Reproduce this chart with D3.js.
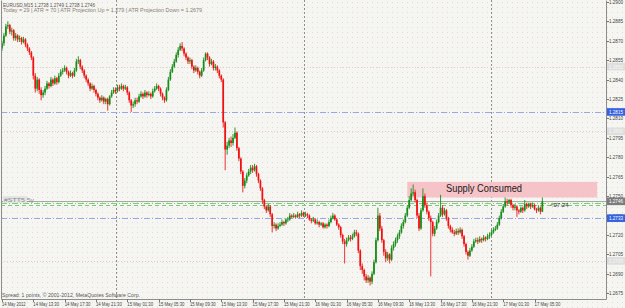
<!DOCTYPE html>
<html>
<head>
<meta charset="utf-8">
<script src="https://cdn.jsdelivr.net/npm/d3@7"></script>
<style>
  body { margin: 0; background: #f5f5f2; }
  svg { display: block; }
</style>
</head>
<body>
<div id="container"></div>
<script>
// EURUSD M15, one bar every 15 minutes from 14 May 2012 09:30 to 17 May 2012 06:30
var opens = [
1.2864,1.2868,1.2874,1.2881,1.2882,1.2877,1.2878,1.2872,1.2874,1.2871,
1.2872,1.2869,1.2871,1.2867,1.2864,1.2861,1.2857,1.2843,1.2833,1.2840,
1.2832,1.2828,1.2830,1.2833,1.2837,1.2835,1.2840,1.2837,1.2841,1.2838,
1.2843,1.2846,1.2847,1.2849,1.2846,1.2843,1.2845,1.2843,1.2847,1.2854,
1.2855,1.2850,1.2847,1.2843,1.2840,1.2837,1.2833,1.2835,1.2832,1.2829,
1.2826,1.2824,1.2826,1.2823,1.2825,1.2821,1.2827,1.2830,1.2832,1.2831,
1.2834,1.2833,1.2835,1.2833,1.2834,1.2830,1.2824,1.2820,1.2821,1.2824,
1.2823,1.2827,1.2829,1.2827,1.2830,1.2828,1.2829,1.2827,1.2831,1.2833,
1.2835,1.2833,1.2829,1.2826,1.2824,1.2832,1.2840,1.2846,1.2850,1.2854,
1.2859,1.2863,1.2866,1.2864,1.2860,1.2857,1.2854,1.2855,1.2850,1.2847,
1.2849,1.2846,1.2843,1.2847,1.2855,1.2860,1.2857,1.2852,1.2854,1.2849,
1.2850,1.2847,1.2843,1.2840,1.2807,1.2786,1.2789,1.2793,1.2791,1.2795,
1.2799,1.2787,1.2779,1.2769,1.2758,1.2762,1.2766,1.2769,1.2772,1.2770,
1.2773,1.2767,1.2762,1.2756,1.2747,1.2742,1.2739,1.2742,1.2736,1.2727,
1.2728,1.2725,1.2727,1.2728,1.2730,1.2729,1.2732,1.2732,1.2735,1.2734,
1.2735,1.2734,1.2736,1.2735,1.2737,1.2735,1.2736,1.2735,1.2732,1.2731,
1.2732,1.2729,1.2730,1.2728,1.2729,1.2726,1.2728,1.2727,1.2730,1.2733,
1.2735,1.2732,1.2728,1.2726,1.2720,1.2715,1.2713,1.2716,1.2718,1.2717,
1.2719,1.2722,1.2721,1.2708,1.2696,1.2693,1.2688,1.2685,1.2687,1.2684,
1.2690,1.2699,1.2716,1.2735,1.2725,1.2716,1.2707,1.2702,1.2705,1.2701,
1.2710,1.2713,1.2716,1.2719,1.2722,1.2727,1.2730,1.2735,1.2741,1.2747,
1.2752,1.2753,1.2747,1.2735,1.2725,1.2739,1.2750,1.2743,1.2738,1.2733,
1.2730,1.2721,1.2725,1.2730,1.2735,1.2741,1.2736,1.2739,1.2733,1.2727,
1.2724,1.2722,1.2721,1.2723,1.2722,1.2724,1.2719,1.2713,1.2707,1.2704,
1.2708,1.2711,1.2715,1.2716,1.2715,1.2717,1.2716,1.2718,1.2717,1.2719,
1.2720,1.2722,1.2724,1.2725,1.2728,1.2733,1.2738,1.2742,1.2746,1.2745,
1.2747,1.2743,1.2741,1.2742,1.2739,1.2738,1.2741,1.2739,1.2744,1.2742,
1.2744,1.2742,1.2743,1.2740,1.2739,1.2741,1.2738
];
var highs = [
1.2870,1.2876,1.2883,1.2885,1.2883,1.2880,1.2879,1.2876,1.2875,1.2874,
1.2873,1.2873,1.2872,1.2868,1.2865,1.2862,1.2858,1.2845,1.2842,1.2841,
1.2834,1.2832,1.2835,1.2839,1.2838,1.2842,1.2841,1.2843,1.2842,1.2845,
1.2848,1.2849,1.2851,1.2850,1.2847,1.2847,1.2846,1.2849,1.2856,1.2858,
1.2856,1.2851,1.2848,1.2844,1.2841,1.2838,1.2837,1.2836,1.2833,1.2830,
1.2827,1.2828,1.2827,1.2826,1.2826,1.2828,1.2832,1.2834,1.2834,1.2836,
1.2836,1.2837,1.2836,1.2836,1.2835,1.2831,1.2825,1.2823,1.2826,1.2826,
1.2829,1.2831,1.2830,1.2832,1.2831,1.2831,1.2830,1.2833,1.2835,1.2837,
1.2836,1.2834,1.2830,1.2827,1.2834,1.2842,1.2848,1.2852,1.2856,1.2861,
1.2865,1.2868,1.2869,1.2865,1.2861,1.2858,1.2857,1.2856,1.2851,1.2851,
1.2850,1.2847,1.2849,1.2857,1.2861,1.2861,1.2858,1.2856,1.2855,1.2852,
1.2851,1.2848,1.2844,1.2841,1.2808,1.2792,1.2795,1.2796,1.2798,1.2803,
1.2800,1.2788,1.2780,1.2770,1.2764,1.2768,1.2771,1.2774,1.2774,1.2775,
1.2774,1.2768,1.2763,1.2757,1.2748,1.2743,1.2744,1.2743,1.2737,1.2730,
1.2729,1.2729,1.2730,1.2732,1.2731,1.2733,1.2734,1.2737,1.2736,1.2737,
1.2736,1.2738,1.2737,1.2739,1.2738,1.2738,1.2737,1.2736,1.2733,1.2734,
1.2733,1.2732,1.2731,1.2730,1.2730,1.2729,1.2729,1.2732,1.2735,1.2737,
1.2736,1.2733,1.2729,1.2727,1.2721,1.2717,1.2718,1.2720,1.2720,1.2721,
1.2724,1.2724,1.2722,1.2709,1.2698,1.2694,1.2690,1.2689,1.2688,1.2692,
1.2701,1.2718,1.2741,1.2737,1.2727,1.2717,1.2709,1.2707,1.2706,1.2712,
1.2715,1.2718,1.2721,1.2724,1.2729,1.2732,1.2737,1.2743,1.2750,1.2756,
1.2759,1.2755,1.2748,1.2737,1.2741,1.2756,1.2752,1.2745,1.2739,1.2735,
1.2731,1.2727,1.2732,1.2737,1.2751,1.2743,1.2741,1.2740,1.2734,1.2728,
1.2726,1.2724,1.2725,1.2725,1.2726,1.2725,1.2720,1.2714,1.2708,1.2710,
1.2713,1.2717,1.2718,1.2718,1.2719,1.2718,1.2720,1.2719,1.2721,1.2722,
1.2724,1.2726,1.2727,1.2730,1.2735,1.2740,1.2744,1.2749,1.2748,1.2748,
1.2748,1.2744,1.2744,1.2743,1.2740,1.2742,1.2742,1.2747,1.2745,1.2745,
1.2745,1.2745,1.2744,1.2741,1.2743,1.2742,1.2749
];
var lows = [
1.2862,1.2866,1.2873,1.2879,1.2875,1.2874,1.2870,1.2870,1.2869,1.2869,
1.2867,1.2868,1.2865,1.2862,1.2859,1.2855,1.2840,1.2830,1.2831,1.2829,
1.2824,1.2826,1.2828,1.2832,1.2833,1.2834,1.2835,1.2836,1.2836,1.2837,
1.2842,1.2844,1.2846,1.2844,1.2841,1.2842,1.2841,1.2842,1.2846,1.2852,
1.2848,1.2845,1.2841,1.2838,1.2835,1.2831,1.2832,1.2830,1.2827,1.2824,
1.2822,1.2823,1.2821,1.2821,1.2816,1.2820,1.2826,1.2829,1.2829,1.2830,
1.2831,1.2832,1.2831,1.2832,1.2828,1.2822,1.2815,1.2818,1.2819,1.2821,
1.2822,1.2826,1.2825,1.2826,1.2826,1.2827,1.2825,1.2826,1.2830,1.2832,
1.2831,1.2827,1.2824,1.2822,1.2823,1.2831,1.2839,1.2845,1.2849,1.2853,
1.2857,1.2862,1.2862,1.2858,1.2855,1.2852,1.2852,1.2848,1.2845,1.2846,
1.2844,1.2841,1.2842,1.2846,1.2854,1.2855,1.2850,1.2851,1.2847,1.2847,
1.2845,1.2841,1.2838,1.2803,1.2770,1.2782,1.2787,1.2788,1.2789,1.2794,
1.2785,1.2777,1.2767,1.2753,1.2756,1.2760,1.2765,1.2767,1.2768,1.2769,
1.2765,1.2760,1.2754,1.2744,1.2740,1.2737,1.2738,1.2734,1.2722,1.2725,
1.2723,1.2724,1.2726,1.2727,1.2727,1.2728,1.2730,1.2731,1.2733,1.2733,
1.2733,1.2733,1.2733,1.2734,1.2734,1.2734,1.2733,1.2731,1.2729,1.2730,
1.2728,1.2728,1.2726,1.2727,1.2725,1.2725,1.2725,1.2726,1.2729,1.2732,
1.2731,1.2727,1.2724,1.2718,1.2713,1.2698,1.2711,1.2715,1.2715,1.2716,
1.2718,1.2719,1.2706,1.2693,1.2690,1.2685,1.2683,1.2683,1.2681,1.2682,
1.2689,1.2698,1.2715,1.2723,1.2714,1.2704,1.2699,1.2700,1.2698,1.2700,
1.2708,1.2711,1.2714,1.2717,1.2721,1.2725,1.2729,1.2734,1.2740,1.2746,
1.2750,1.2745,1.2733,1.2723,1.2724,1.2738,1.2741,1.2736,1.2731,1.2688,
1.2719,1.2719,1.2724,1.2729,1.2734,1.2734,1.2735,1.2731,1.2725,1.2722,
1.2721,1.2719,1.2720,1.2720,1.2721,1.2717,1.2711,1.2705,1.2701,1.2703,
1.2707,1.2710,1.2714,1.2713,1.2714,1.2714,1.2715,1.2715,1.2716,1.2717,
1.2719,1.2721,1.2723,1.2724,1.2727,1.2732,1.2737,1.2741,1.2743,1.2744,
1.2741,1.2739,1.2739,1.2734,1.2736,1.2737,1.2737,1.2738,1.2740,1.2741,
1.2740,1.2741,1.2739,1.2737,1.2738,1.2736,1.2738
];
var closes = [
1.2868,1.2874,1.2881,1.2882,1.2877,1.2878,1.2872,1.2874,1.2871,1.2872,
1.2869,1.2871,1.2867,1.2864,1.2861,1.2857,1.2843,1.2833,1.2840,1.2832,
1.2828,1.2830,1.2833,1.2837,1.2835,1.2840,1.2837,1.2841,1.2838,1.2843,
1.2846,1.2847,1.2849,1.2846,1.2843,1.2845,1.2843,1.2847,1.2854,1.2855,
1.2850,1.2847,1.2843,1.2840,1.2837,1.2833,1.2835,1.2832,1.2829,1.2826,
1.2824,1.2826,1.2823,1.2825,1.2821,1.2827,1.2830,1.2832,1.2831,1.2834,
1.2833,1.2835,1.2833,1.2834,1.2830,1.2824,1.2820,1.2821,1.2824,1.2823,
1.2827,1.2829,1.2827,1.2830,1.2828,1.2829,1.2827,1.2831,1.2833,1.2835,
1.2833,1.2829,1.2826,1.2824,1.2832,1.2840,1.2846,1.2850,1.2854,1.2859,
1.2863,1.2866,1.2864,1.2860,1.2857,1.2854,1.2855,1.2850,1.2847,1.2849,
1.2846,1.2843,1.2847,1.2855,1.2860,1.2857,1.2852,1.2854,1.2849,1.2850,
1.2847,1.2843,1.2840,1.2807,1.2786,1.2789,1.2793,1.2791,1.2795,1.2799,
1.2787,1.2779,1.2769,1.2758,1.2762,1.2766,1.2769,1.2772,1.2770,1.2773,
1.2767,1.2762,1.2756,1.2747,1.2742,1.2739,1.2742,1.2736,1.2727,1.2728,
1.2725,1.2727,1.2728,1.2730,1.2729,1.2732,1.2732,1.2735,1.2734,1.2735,
1.2734,1.2736,1.2735,1.2737,1.2735,1.2736,1.2735,1.2732,1.2731,1.2732,
1.2729,1.2730,1.2728,1.2729,1.2726,1.2728,1.2727,1.2730,1.2733,1.2735,
1.2732,1.2728,1.2726,1.2720,1.2715,1.2713,1.2716,1.2718,1.2717,1.2719,
1.2722,1.2721,1.2708,1.2696,1.2693,1.2688,1.2685,1.2687,1.2684,1.2690,
1.2699,1.2716,1.2735,1.2725,1.2716,1.2707,1.2702,1.2705,1.2701,1.2710,
1.2713,1.2716,1.2719,1.2722,1.2727,1.2730,1.2735,1.2741,1.2747,1.2752,
1.2753,1.2747,1.2735,1.2725,1.2739,1.2750,1.2743,1.2738,1.2733,1.2730,
1.2721,1.2725,1.2730,1.2735,1.2741,1.2736,1.2739,1.2733,1.2727,1.2724,
1.2722,1.2721,1.2723,1.2722,1.2724,1.2719,1.2713,1.2707,1.2704,1.2708,
1.2711,1.2715,1.2716,1.2715,1.2717,1.2716,1.2718,1.2717,1.2719,1.2720,
1.2722,1.2724,1.2725,1.2728,1.2733,1.2738,1.2742,1.2746,1.2745,1.2747,
1.2743,1.2741,1.2742,1.2739,1.2738,1.2741,1.2739,1.2744,1.2742,1.2744,
1.2742,1.2743,1.2740,1.2739,1.2741,1.2738,1.2746
];

var timeLabels = ['14 May 2012', '14 May 13:30', '14 May 17:30', '14 May 21:30',
  '15 May 01:30', '15 May 05:30', '15 May 09:30', '15 May 13:30', '15 May 17:30',
  '15 May 21:30', '16 May 01:30', '16 May 05:30', '16 May 09:30', '16 May 13:30',
  '16 May 17:30', '16 May 21:30', '17 May 01:30', '17 May 05:30'];
var daySeparatorBars = [58, 154, 250];
var priceTicks = [1.2675, 1.2690, 1.2705, 1.2720, 1.2735, 1.2750, 1.2765, 1.2780,
  1.2795, 1.2810, 1.2825, 1.2840, 1.2855, 1.2870, 1.2885, 1.2900];
var roundLevels = [1.2850, 1.2800, 1.2700];
var blueLevels = [1.2815, 1.2733];
var greenDashDot = [1.2745];
var greenDashed = [1.2743];
var bidPrice = 1.2746;
var supplyZone = [207, 304, 1.2749, 1.2761];   // from bar, to bar, low, high
var infoLines = ['EURUSD,M15  1.2738 1.2749 1.2738 1.2746',
  'Today = 29   |   ATR = 70   |   ATR Projection Up = 1.279   |   ATR Projection Down = 1.2679'];

var width = 625, height = 308;
var plotLeft = 1, plotRight = 606, plotTop = 0, plotBottom = 299;
var barsPerLabel = 16;

var svg = d3.select('#container').append('svg')
            .attr('width', width)
            .attr('height', height)
            .style('font-family', '"Liberation Sans", Arial, sans-serif');

var x = d3.scaleLinear().domain([-0.5, 308.5]).range([plotLeft, plotRight]);
var y = d3.scaleLinear().domain([1.2675, 1.2900]).range([293.3, 1.85]);

// dotted paper background
var pat = svg.append('defs').append('pattern')
             .attr('id', 'paper')
             .attr('width', 5).attr('height', 5)
             .attr('patternUnits', 'userSpaceOnUse');
pat.append('rect').attr('width', 5).attr('height', 5).attr('fill', '#f5f5f2');
pat.append('rect').attr('x', 2).attr('y', 2).attr('width', 1).attr('height', 1).attr('fill', '#ead8d8');
svg.append('rect').attr('width', width).attr('height', height).attr('fill', 'url(#paper)');

// round-number levels
svg.selectAll('line.round').data(roundLevels).enter().append('line')
   .attr('class', 'round')
   .attr('x1', plotLeft).attr('x2', plotRight)
   .attr('y1', function(d) { return Math.round(y(d)) + 0.5; })
   .attr('y2', function(d) { return Math.round(y(d)) + 0.5; })
   .attr('stroke', '#e7c9c9').attr('stroke-dasharray', '1,2');

// day separators
svg.selectAll('line.sep').data(daySeparatorBars).enter().append('line')
   .attr('class', 'sep')
   .attr('x1', function(d) { return Math.round(x(d)) + 0.5; })
   .attr('x2', function(d) { return Math.round(x(d)) + 0.5; })
   .attr('y1', plotTop).attr('y2', plotBottom)
   .attr('stroke', '#8f8f8f').attr('stroke-dasharray', '2,2');

// supply zone
svg.append('rect')
   .attr('x', x(supplyZone[0]))
   .attr('width', x(supplyZone[1]) - x(supplyZone[0]))
   .attr('y', y(supplyZone[3]))
   .attr('height', y(supplyZone[2]) - y(supplyZone[3]))
   .attr('fill', '#f6c3c8');
svg.append('text')
   .attr('x', 446).attr('y', 191.5)
   .attr('font-size', '10.2px').attr('fill', '#1a1a1a')
   .attr('textLength', 76).attr('lengthAdjust', 'spacingAndGlyphs')
   .text('Supply Consumed');

// horizontal levels
function hline(values, cls, color, dash) {
  svg.selectAll('line.' + cls).data(values).enter().append('line')
     .attr('class', cls)
     .attr('x1', plotLeft).attr('x2', plotRight)
     .attr('y1', function(d) { return Math.round(y(d)) + 0.5; })
     .attr('y2', function(d) { return Math.round(y(d)) + 0.5; })
     .attr('stroke', color).attr('stroke-dasharray', dash);
}
hline(blueLevels, 'blue', '#98a6ea', '6,2,1,2');
hline(greenDashDot, 'gdd', '#78d078', '6,2,1,2');
hline(greenDashed, 'gd', '#6fcf6f', '4,3');
hline([bidPrice], 'bid', '#a8a8a8', null);

// left object labels
svg.append('rect').attr('x', 3).attr('y', 196).attr('width', 24).attr('height', 7).attr('fill', '#e4e4e4');
svg.append('text').attr('x', 4).attr('y', 202).attr('font-size', '5px').attr('fill', '#8a8a8a')
   .attr('textLength', 30).attr('lengthAdjust', 'spacingAndGlyphs').text('#STT5 5y');

// candles
var bars = d3.range(closes.length).map(function(i) {
  return { i: i, o: opens[i], h: highs[i], l: lows[i], c: closes[i] };
});
var candle = svg.append('g').selectAll('g').data(bars).enter().append('g');
candle.append('line')
      .attr('x1', function(d) { return x(d.i); })
      .attr('x2', function(d) { return x(d.i); })
      .attr('y1', function(d) { return y(d.h); })
      .attr('y2', function(d) { return y(d.l); })
      .attr('stroke', function(d) { return d.c >= d.o ? '#1c8c1c' : '#f01c1c'; })
      .attr('stroke-width', 0.9);
candle.append('rect')
      .attr('x', function(d) { return x(d.i) - 0.85; })
      .attr('width', 1.7)
      .attr('y', function(d) { return y(Math.max(d.o, d.c)); })
      .attr('height', function(d) { return Math.max(0.8, Math.abs(y(d.o) - y(d.c))); })
      .attr('fill', function(d) { return d.c >= d.o ? '#178c17' : '#f01010'; });

svg.append('text')
   .attr('x', 550).attr('y', 206.5)
   .attr('font-size', '6px').attr('fill', '#333')
   .text('<07:24');

// frame
svg.append('path')
   .attr('d', 'M' + (plotLeft + 0.5) + ',0.5V' + (plotBottom + 0.5) + 'H' + (plotRight + 0.5) + 'V0.5')
   .attr('fill', 'none').attr('stroke', '#8c8c8c');

// price axis
var yAxis = svg.append('g');
yAxis.selectAll('line').data(priceTicks).enter().append('line')
     .attr('x1', plotRight + 0.5).attr('x2', plotRight + 3)
     .attr('y1', function(d) { return Math.round(y(d)) + 0.5; })
     .attr('y2', function(d) { return Math.round(y(d)) + 0.5; })
     .attr('stroke', '#777');
yAxis.selectAll('text').data(priceTicks).enter().append('text')
     .attr('x', 609).attr('y', function(d) { return y(d) + 2; })
     .attr('font-size', '5.4px').attr('fill', '#444')
     .attr('textLength', 14).attr('lengthAdjust', 'spacingAndGlyphs')
     .text(function(d) { return d.toFixed(4); });

function priceTag(value, bg, fg) {
  var g = svg.append('g').attr('transform', 'translate(607,' + y(value) + ')');
  g.append('rect').attr('x', 0).attr('y', -3.8).attr('width', 18).attr('height', 7.6).attr('fill', bg);
  g.append('text').attr('x', 2).attr('y', 2).attr('font-size', '5.4px').attr('fill', fg)
   .attr('textLength', 14).attr('lengthAdjust', 'spacingAndGlyphs')
   .text(value.toFixed(4));
}
roundLevels.forEach(function(v) { priceTag(v, '#dedede', '#f8f8f8'); });
blueLevels.forEach(function(v) { priceTag(v, '#3562e0', '#ffffff'); });
priceTag(bidPrice, '#7c7c7c', '#ffffff');

// time axis
var xAxis = svg.append('g');
xAxis.selectAll('line').data(timeLabels).enter().append('line')
     .attr('x1', function(d, i) { return Math.round(x(i * barsPerLabel)) + 0.5; })
     .attr('x2', function(d, i) { return Math.round(x(i * barsPerLabel)) + 0.5; })
     .attr('y1', plotBottom).attr('y2', plotBottom + 3)
     .attr('stroke', '#777');
xAxis.selectAll('text').data(timeLabels).enter().append('text')
     .attr('x', function(d, i) { return x(i * barsPerLabel); })
     .attr('y', 306)
     .attr('font-size', '5.2px').attr('fill', '#444')
     .attr('textLength', function(d) { return d.length * 2.15; })
     .attr('lengthAdjust', 'spacingAndGlyphs')
     .text(function(d) { return d; });

// info texts
svg.append('text').attr('x', 3).attr('y', 6.6).attr('font-size', '5.2px').attr('fill', '#555')
   .attr('textLength', 92).attr('lengthAdjust', 'spacingAndGlyphs').text(infoLines[0]);
svg.append('text').attr('x', 3).attr('y', 11.8).attr('font-size', '5.2px').attr('fill', '#8a7f70')
   .attr('textLength', 199).attr('lengthAdjust', 'spacingAndGlyphs').text(infoLines[1]);
svg.append('text').attr('x', 2).attr('y', 296.5).attr('font-size', '5.4px').attr('fill', '#555')
   .attr('textLength', 138).attr('lengthAdjust', 'spacingAndGlyphs')
   .text('Spread: 1 points, \u00a9 2001-2012, MetaQuotes Software Corp.');
</script>
</body>
</html>
